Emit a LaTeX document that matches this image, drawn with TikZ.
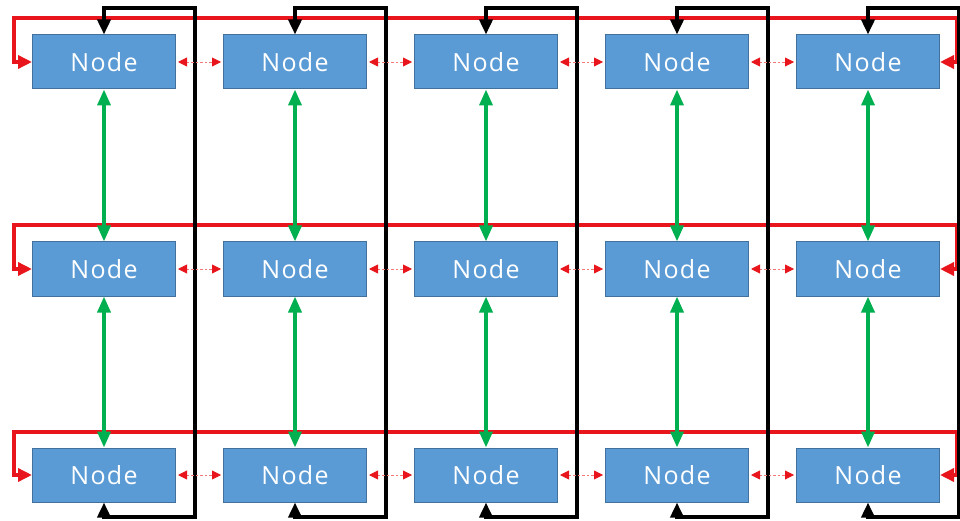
\documentclass[tikz,border=0pt]{standalone}
\usepackage{fontspec}
\setmainfont{Open Sans}
\usetikzlibrary{arrows.meta}
\definecolor{nodefill}{RGB}{91,155,213}
\definecolor{nodeline}{RGB}{65,113,156}
\definecolor{ringred}{RGB}{232,22,28}
\definecolor{linkred}{RGB}{240,120,120}
\definecolor{linkgreen}{RGB}{0,176,80}
\begin{document}
\begin{tikzpicture}[x=1pt,y=-1pt,
  box/.style={draw=nodeline,line width=1pt,fill=nodefill,
    minimum width=143pt,minimum height=54pt,inner sep=0pt,text=white,
    font=\fontsize{25}{28}\selectfont\addfontfeatures{LetterSpace=5}},
  rowring/.style={draw=ringred,line width=3.4pt,
    {Triangle[length=14pt,width=13pt]}-{Triangle[length=14pt,width=13pt]}},
  colring/.style={draw=black,line width=3.6pt,
    {Triangle[length=15pt,width=13pt]}-{Triangle[length=15pt,width=13pt]}},
  vlink/.style={draw=linkgreen,line width=3.6pt,
    {Triangle[length=16pt,width=13pt]}-{Triangle[length=16pt,width=13pt]}},
  hlink/.style={draw=linkred,line width=0.9pt,dash pattern=on 2.5pt off 2pt,
    shorten <=2pt,shorten >=2pt,
    {Triangle[length=9pt,width=9pt,color=ringred]}-{Triangle[length=9pt,width=9pt,color=ringred]}}]
\useasboundingbox (0,0) rectangle (960,521);
\clip (0,0) rectangle (960,521);

% grid of nodes: rows 1..3, columns 1..5
\foreach \c in {1,...,5}{
  \foreach \r/\y in {1/62,2/269,3/475}{
    \node[box] (n\r\c) at ({104+191*(\c-1)},\y) {Node};
  }
}

% row wrap-around links
\foreach \r/\y/\t in {1/62/18,2/269/225,3/475/432}{
  \draw[rowring] (n\r1.west) -| (14,\t) -| (957,\y) -- (n\r5.east);
}

% column wrap-around links
\foreach \c in {1,...,5}{
  \pgfmathsetmacro{\xv}{104+191*(\c-1)+91}
  \draw[colring] (n1\c.north) |- (\xv,8) -- (\xv,517) -| (n3\c.south);
}

% vertical neighbour links
\foreach \c in {1,...,5}{
  \draw[vlink] (n1\c.south) -- (n2\c.north);
  \draw[vlink] (n2\c.south) -- (n3\c.north);
}

% horizontal neighbour links
\foreach \r in {1,2,3}{
  \foreach \c/\d in {1/2,2/3,3/4,4/5}{
    \draw[hlink] (n\r\c.east) -- (n\r\d.west);
  }
}
\end{tikzpicture}
\end{document}
